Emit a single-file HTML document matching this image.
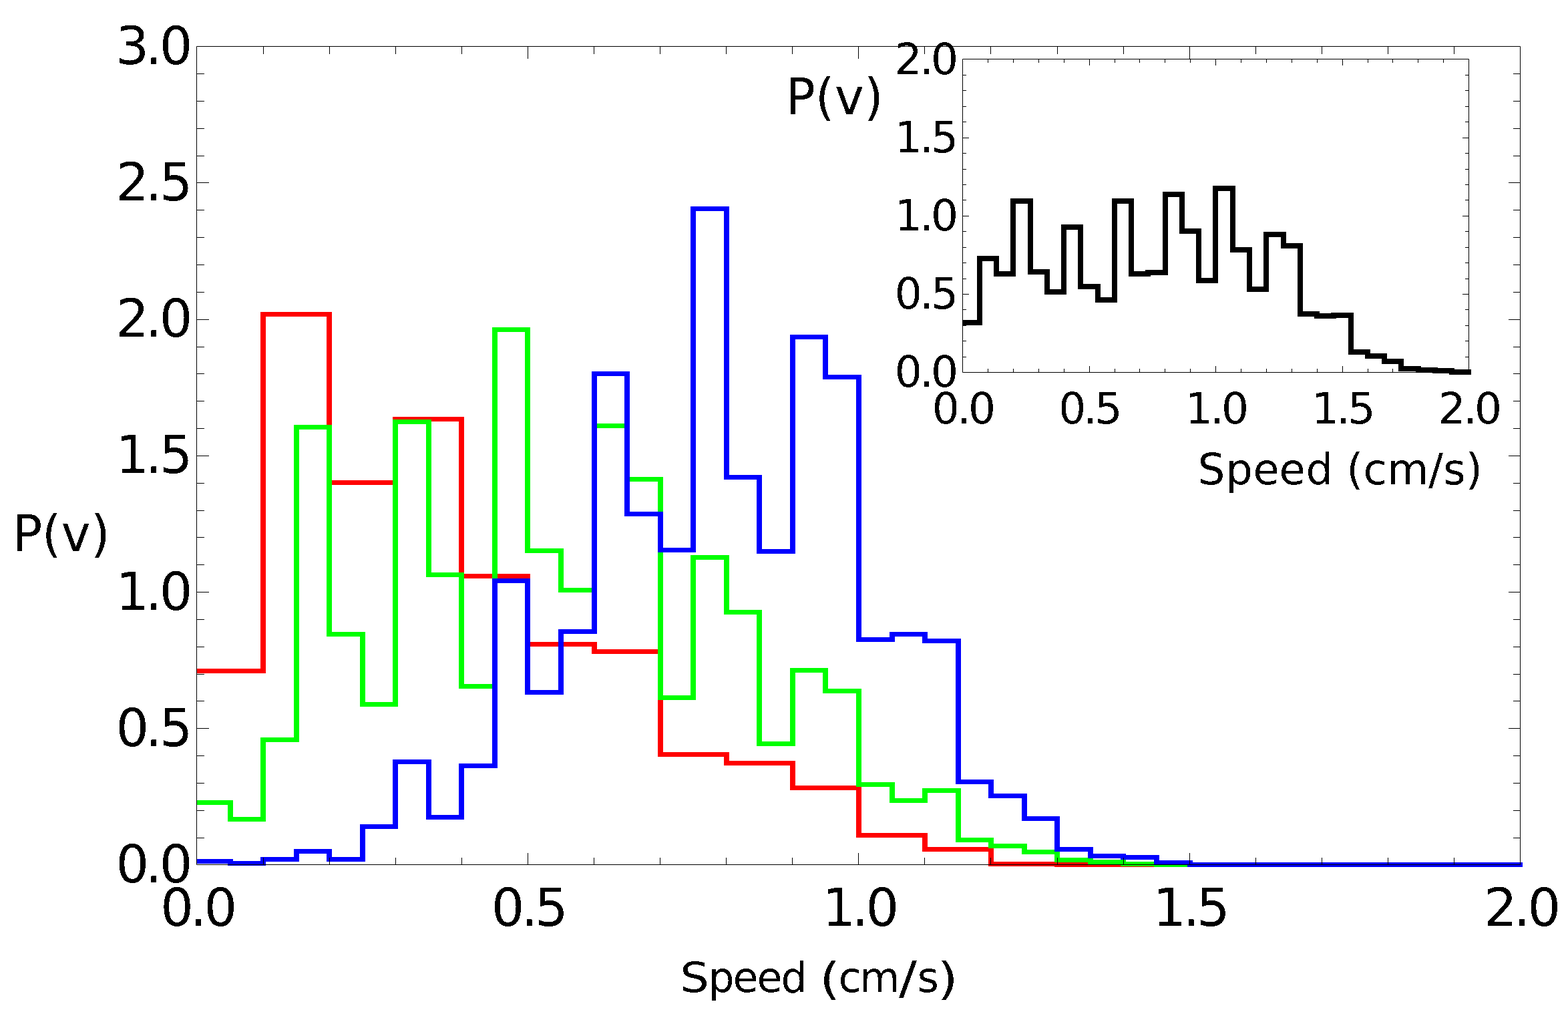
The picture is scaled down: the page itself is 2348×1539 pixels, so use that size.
<!DOCTYPE html>
<html><head><meta charset="utf-8"><title>P(v) speed distribution histogram</title>
<style>html,body{margin:0;padding:0;background:#fff;overflow:hidden}svg{display:block}</style>
</head><body>
<svg width="2348" height="1539" viewBox="0 0 2348 1539">
<rect x="0" y="0" width="2348" height="1539" fill="#fff"/>
<path fill="#ff0000" d="M295 1001 H398 V1008 H295 Z M390 467 H398 V1008 H390 Z M390 467 H497 V474 H390 Z M489 467 H497 V726 H489 Z M489 719 H596 V726 H489 Z M588 624 H596 V726 H588 Z M588 624 H695 V631 H588 Z M687 624 H695 V866 H687 Z M687 859 H794 V866 H687 Z M786 859 H794 V968 H786 Z M786 961 H894 V968 H786 Z M886 961 H894 V979 H886 Z M886 972 H993 V979 H886 Z M985 972 H993 V1133 H985 Z M985 1126 H1092 V1133 H985 Z M1084 1126 H1092 V1146 H1084 Z M1084 1139 H1191 V1146 H1084 Z M1183 1139 H1191 V1183 H1183 Z M1183 1176 H1290 V1183 H1183 Z M1282 1176 H1290 V1254 H1282 Z M1282 1247 H1389 V1254 H1282 Z M1381 1247 H1389 V1275 H1381 Z M1381 1268 H1488 V1275 H1381 Z M1480 1268 H1488 V1297 H1480 Z M1480 1290 H1587 V1297 H1480 Z M1579 1290 H1587 V1298 H1579 Z M1579 1291 H1686 V1298 H1579 Z M1678 1291 H1786 V1298 H1678 Z M1778 1291 H1885 V1298 H1778 Z M1877 1291 H1984 V1298 H1877 Z M1976 1291 H2083 V1298 H1976 Z M2075 1291 H2182 V1298 H2075 Z M2174 1291 H2280 V1298 H2174 Z"/>
<path fill="#00ff00" d="M295 1198 H349 V1205 H295 Z M341 1198 H349 V1230 H341 Z M341 1223 H398 V1230 H341 Z M390 1104 H398 V1230 H390 Z M390 1104 H448 V1111 H390 Z M440 636 H448 V1111 H440 Z M440 636 H497 V643 H440 Z M489 636 H497 V953 H489 Z M489 946 H547 V953 H489 Z M539 946 H547 V1058 H539 Z M539 1051 H596 V1058 H539 Z M588 628 H596 V1058 H588 Z M588 628 H646 V635 H588 Z M638 628 H646 V864 H638 Z M638 857 H695 V864 H638 Z M687 857 H695 V1031 H687 Z M687 1024 H745 V1031 H687 Z M737 490 H745 V1031 H737 Z M737 490 H794 V497 H737 Z M786 490 H794 V828 H786 Z M786 821 H844 V828 H786 Z M836 821 H844 V887 H836 Z M836 880 H894 V887 H836 Z M886 634 H894 V887 H886 Z M886 634 H943 V641 H886 Z M935 634 H943 V721 H935 Z M935 714 H993 V721 H935 Z M985 714 H993 V1048 H985 Z M985 1041 H1042 V1048 H985 Z M1034 831 H1042 V1048 H1034 Z M1034 831 H1092 V838 H1034 Z M1084 831 H1092 V920 H1084 Z M1084 913 H1141 V920 H1084 Z M1133 913 H1141 V1117 H1133 Z M1133 1110 H1191 V1117 H1133 Z M1183 1000 H1191 V1117 H1183 Z M1183 1000 H1240 V1007 H1183 Z M1232 1000 H1240 V1038 H1232 Z M1232 1031 H1290 V1038 H1232 Z M1282 1031 H1290 V1178 H1282 Z M1282 1171 H1340 V1178 H1282 Z M1332 1171 H1340 V1202 H1332 Z M1332 1195 H1389 V1202 H1332 Z M1381 1180 H1389 V1202 H1381 Z M1381 1180 H1439 V1187 H1381 Z M1431 1180 H1439 V1261 H1431 Z M1431 1254 H1488 V1261 H1431 Z M1480 1254 H1488 V1270 H1480 Z M1480 1263 H1538 V1270 H1480 Z M1530 1263 H1538 V1279 H1530 Z M1530 1272 H1587 V1279 H1530 Z M1579 1272 H1587 V1291 H1579 Z M1579 1284 H1637 V1291 H1579 Z M1629 1284 H1637 V1294 H1629 Z M1629 1287 H1686 V1294 H1629 Z M1678 1287 H1686 V1297 H1678 Z M1678 1290 H1736 V1297 H1678 Z M1728 1290 H1736 V1298 H1728 Z M1728 1291 H1786 V1298 H1728 Z M1778 1291 H1835 V1298 H1778 Z M1827 1291 H1885 V1298 H1827 Z M1877 1291 H1934 V1298 H1877 Z M1926 1291 H1984 V1298 H1926 Z M1976 1291 H2033 V1298 H1976 Z M2025 1291 H2083 V1298 H2025 Z M2075 1291 H2132 V1298 H2075 Z M2124 1291 H2182 V1298 H2124 Z M2174 1291 H2231 V1298 H2174 Z M2223 1291 H2280 V1298 H2223 Z"/>
<path fill="#0000ff" d="M295 1286 H349 V1293 H295 Z M341 1286 H349 V1296 H341 Z M341 1289 H398 V1296 H341 Z M390 1283 H398 V1296 H390 Z M390 1283 H448 V1290 H390 Z M440 1271 H448 V1290 H440 Z M440 1271 H497 V1278 H440 Z M489 1271 H497 V1290 H489 Z M489 1283 H547 V1290 H489 Z M539 1234 H547 V1290 H539 Z M539 1234 H596 V1241 H539 Z M588 1137 H596 V1241 H588 Z M588 1137 H646 V1144 H588 Z M638 1137 H646 V1227 H638 Z M638 1220 H695 V1227 H638 Z M687 1143 H695 V1227 H687 Z M687 1143 H745 V1150 H687 Z M737 866 H745 V1150 H737 Z M737 866 H794 V873 H737 Z M786 866 H794 V1040 H786 Z M786 1033 H844 V1040 H786 Z M836 942 H844 V1040 H836 Z M836 942 H894 V949 H836 Z M886 556 H894 V949 H886 Z M886 556 H943 V563 H886 Z M935 556 H943 V773 H935 Z M935 766 H993 V773 H935 Z M985 766 H993 V827 H985 Z M985 820 H1042 V827 H985 Z M1034 309 H1042 V827 H1034 Z M1034 309 H1092 V316 H1034 Z M1084 309 H1092 V718 H1084 Z M1084 711 H1141 V718 H1084 Z M1133 711 H1141 V829 H1133 Z M1133 822 H1191 V829 H1133 Z M1183 501 H1191 V829 H1183 Z M1183 501 H1240 V508 H1183 Z M1232 501 H1240 V568 H1232 Z M1232 561 H1290 V568 H1232 Z M1282 561 H1290 V961 H1282 Z M1282 954 H1340 V961 H1282 Z M1332 946 H1340 V961 H1332 Z M1332 946 H1389 V953 H1332 Z M1381 946 H1389 V963 H1381 Z M1381 956 H1439 V963 H1381 Z M1431 956 H1439 V1174 H1431 Z M1431 1167 H1488 V1174 H1431 Z M1480 1167 H1488 V1195 H1480 Z M1480 1188 H1538 V1195 H1480 Z M1530 1188 H1538 V1229 H1530 Z M1530 1222 H1587 V1229 H1530 Z M1579 1222 H1587 V1275 H1579 Z M1579 1268 H1637 V1275 H1579 Z M1629 1268 H1637 V1285 H1629 Z M1629 1278 H1686 V1285 H1629 Z M1678 1278 H1686 V1287 H1678 Z M1678 1280 H1736 V1287 H1678 Z M1728 1280 H1736 V1295 H1728 Z M1728 1288 H1786 V1295 H1728 Z M1778 1288 H1786 V1298 H1778 Z M1778 1291 H1835 V1298 H1778 Z M1827 1291 H1885 V1298 H1827 Z M1877 1291 H1934 V1298 H1877 Z M1926 1291 H1984 V1298 H1926 Z M1976 1291 H2033 V1298 H1976 Z M2025 1291 H2083 V1298 H2025 Z M2075 1291 H2132 V1298 H2075 Z M2124 1291 H2182 V1298 H2124 Z M2174 1291 H2231 V1298 H2174 Z M2223 1291 H2280 V1298 H2223 Z"/>
<path fill="none" stroke="#000000" stroke-width="8" stroke-linejoin="miter" d="M1441.5 483 H1467 V387 H1492 V410 H1517 V301 H1543 V407 H1568 V437 H1593 V340 H1618 V429 H1644 V449 H1669 V301 H1694 V410 H1719 V408 H1745 V291 H1770 V346 H1795 V420 H1820 V282 H1846 V374 H1871 V433 H1896 V351 H1922 V368 H1947 V470 H1972 V473 H1997 V472 H2023 V527 H2048 V533 H2073 V541 H2098 V552 H2124 V554 H2149 V555 H2174 V557 H2203.0"/>
<path fill="none" stroke="#000" stroke-width="1" d="M294.5 69.5 H2276.5 V1294.5 H294.5 Z M394.5 1294 v-10 M394.5 70 v11 M493.5 1294 v-10 M493.5 70 v11 M592.5 1294 v-10 M592.5 70 v11 M691.5 1294 v-10 M691.5 70 v11 M790.5 1294 v-17 M790.5 70 v18 M889.5 1294 v-10 M889.5 70 v11 M988.5 1294 v-10 M988.5 70 v11 M1087.5 1294 v-10 M1087.5 70 v11 M1186.5 1294 v-10 M1186.5 70 v11 M1285.5 1294 v-17 M1285.5 70 v18 M1384.5 1294 v-10 M1384.5 70 v11 M1483.5 1294 v-10 M1483.5 70 v11 M1583.5 1294 v-10 M1583.5 70 v11 M1682.5 1294 v-10 M1682.5 70 v11 M1781.5 1294 v-17 M1781.5 70 v18 M1880.5 1294 v-10 M1880.5 70 v11 M1979.5 1294 v-10 M1979.5 70 v11 M2078.5 1294 v-10 M2078.5 70 v11 M2177.5 1294 v-10 M2177.5 70 v11 M295 1254.5 h11 M2276 1254.5 h-10 M295 1213.5 h11 M2276 1213.5 h-10 M295 1172.5 h11 M2276 1172.5 h-10 M295 1131.5 h11 M2276 1131.5 h-10 M295 1090.5 h18 M2276 1090.5 h-17 M295 1049.5 h11 M2276 1049.5 h-10 M295 1009.5 h11 M2276 1009.5 h-10 M295 968.5 h11 M2276 968.5 h-10 M295 927.5 h11 M2276 927.5 h-10 M295 886.5 h18 M2276 886.5 h-17 M295 845.5 h11 M2276 845.5 h-10 M295 804.5 h11 M2276 804.5 h-10 M295 764.5 h11 M2276 764.5 h-10 M295 723.5 h11 M2276 723.5 h-10 M295 682.5 h18 M2276 682.5 h-17 M295 641.5 h11 M2276 641.5 h-10 M295 600.5 h11 M2276 600.5 h-10 M295 559.5 h11 M2276 559.5 h-10 M295 519.5 h11 M2276 519.5 h-10 M295 478.5 h18 M2276 478.5 h-17 M295 437.5 h11 M2276 437.5 h-10 M295 396.5 h11 M2276 396.5 h-10 M295 355.5 h11 M2276 355.5 h-10 M295 314.5 h11 M2276 314.5 h-10 M295 273.5 h18 M2276 273.5 h-17 M295 233.5 h11 M2276 233.5 h-10 M295 192.5 h11 M2276 192.5 h-10 M295 151.5 h11 M2276 151.5 h-10 M295 110.5 h11 M2276 110.5 h-10 M1441.5 88.5 H2199.5 V557.5 H1441.5 Z M1479.5 557 v-5 M1479.5 89 v5 M1517.5 557 v-5 M1517.5 89 v5 M1555.5 557 v-5 M1555.5 89 v5 M1593.5 557 v-5 M1593.5 89 v5 M1631.5 557 v-9 M1631.5 89 v9 M1669.5 557 v-5 M1669.5 89 v5 M1706.5 557 v-5 M1706.5 89 v5 M1744.5 557 v-5 M1744.5 89 v5 M1782.5 557 v-5 M1782.5 89 v5 M1820.5 557 v-9 M1820.5 89 v9 M1858.5 557 v-5 M1858.5 89 v5 M1896.5 557 v-5 M1896.5 89 v5 M1934.5 557 v-5 M1934.5 89 v5 M1972.5 557 v-5 M1972.5 89 v5 M2010.5 557 v-9 M2010.5 89 v9 M2048.5 557 v-5 M2048.5 89 v5 M2085.5 557 v-5 M2085.5 89 v5 M2123.5 557 v-5 M2123.5 89 v5 M2161.5 557 v-5 M2161.5 89 v5 M1442 534.5 h5 M2199 534.5 h-5 M1442 510.5 h5 M2199 510.5 h-5 M1442 487.5 h5 M2199 487.5 h-5 M1442 463.5 h5 M2199 463.5 h-5 M1442 440.5 h9 M2199 440.5 h-9 M1442 417.5 h5 M2199 417.5 h-5 M1442 393.5 h5 M2199 393.5 h-5 M1442 370.5 h5 M2199 370.5 h-5 M1442 346.5 h5 M2199 346.5 h-5 M1442 323.5 h9 M2199 323.5 h-9 M1442 299.5 h5 M2199 299.5 h-5 M1442 276.5 h5 M2199 276.5 h-5 M1442 253.5 h5 M2199 253.5 h-5 M1442 229.5 h5 M2199 229.5 h-5 M1442 206.5 h9 M2199 206.5 h-9 M1442 182.5 h5 M2199 182.5 h-5 M1442 159.5 h5 M2199 159.5 h-5 M1442 135.5 h5 M2199 135.5 h-5 M1442 112.5 h5 M2199 112.5 h-5"/>
<defs><filter id="crisp" x="0" y="0" width="100%" height="100%" filterUnits="userSpaceOnUse" color-interpolation-filters="sRGB"><feComponentTransfer><feFuncA type="discrete" tableValues="0 1"/></feComponentTransfer></filter></defs>
<g filter="url(#crisp)" fill="#000" font-family="'DejaVu Sans', 'Liberation Sans', sans-serif"><text x="173.50 217.90 238.80" y="1320.8" font-size="78.0">0.0</text>
<text x="173.50 217.90 238.80" y="1116.6" font-size="78.0">0.5</text>
<text x="173.50 217.90 238.80" y="912.5" font-size="78.0">1.0</text>
<text x="173.50 217.90 238.80" y="708.3" font-size="78.0">1.5</text>
<text x="173.50 217.90 238.80" y="504.1" font-size="78.0">2.0</text>
<text x="173.50 217.90 238.80" y="300.0" font-size="78.0">2.5</text>
<text x="173.50 217.90 238.80" y="95.8" font-size="78.0">3.0</text>
<text x="240.30 284.70 305.60" y="1385.7" font-size="78.0">0.0</text>
<text x="735.80 780.20 801.10" y="1385.7" font-size="78.0">0.5</text>
<text x="1231.30 1275.70 1296.60" y="1385.7" font-size="78.0">1.0</text>
<text x="1726.80 1771.20 1792.10" y="1385.7" font-size="78.0">1.5</text>
<text x="2222.30 2266.70 2287.60" y="1385.7" font-size="78.0">2.0</text>
<text x="1339.80 1377.00 1394.00" y="578.9" font-size="64.5">0.0</text>
<text x="1339.80 1377.00 1394.00" y="461.7" font-size="64.5">0.5</text>
<text x="1339.80 1377.00 1394.00" y="344.8" font-size="64.5">1.0</text>
<text x="1339.80 1377.00 1394.00" y="227.9" font-size="64.5">1.5</text>
<text x="1339.80 1377.00 1394.00" y="110.8" font-size="64.5">2.0</text>
<text x="1395.80 1433.00 1450.00" y="633.9" font-size="64.5">0.0</text>
<text x="1585.30 1622.50 1639.50" y="633.9" font-size="64.5">0.5</text>
<text x="1774.80 1812.00 1829.00" y="633.9" font-size="64.5">1.0</text>
<text x="1964.30 2001.50 2018.50" y="633.9" font-size="64.5">1.5</text>
<text x="2153.80 2191.00 2208.00" y="633.9" font-size="64.5">2.0</text>
<text x="18.75 62.64 91.78 135.88" y="825.0" font-size="74.0">P(v)</text>
<text x="1176.35 1220.74 1249.98 1293.98" y="170.9" font-size="74.0">P(v)</text>
<text y="1484.8" font-size="61.7"><tspan x="1018.41" textLength="43.19" lengthAdjust="spacingAndGlyphs">S</tspan><tspan x="1060.39 1097.51 1133.61 1169.61">peed</tspan><tspan x="1203.23"> </tspan><tspan x="1227.04" y="1488.3" font-size="66.5" textLength="31.13" lengthAdjust="spacingAndGlyphs">(</tspan><tspan x="1255.41 1287.19" y="1484.8">cm</tspan><tspan x="1346.00" y="1488.0" font-size="67" textLength="26.99" lengthAdjust="spacingAndGlyphs">/</tspan><tspan x="1373.67" y="1484.8">s</tspan><tspan x="1403.72" y="1488.3" font-size="66.5" textLength="31.13" lengthAdjust="spacingAndGlyphs">)</tspan></text>
<text x="1793.68 1835.18 1876.58 1915.48 1955.58 1990.46 2016.20 2041.38 2076.88 2139.20 2161.24 2195.08" y="724.8" font-size="64.0">Speed (cm/s)</text></g>
</svg>
</body></html>
